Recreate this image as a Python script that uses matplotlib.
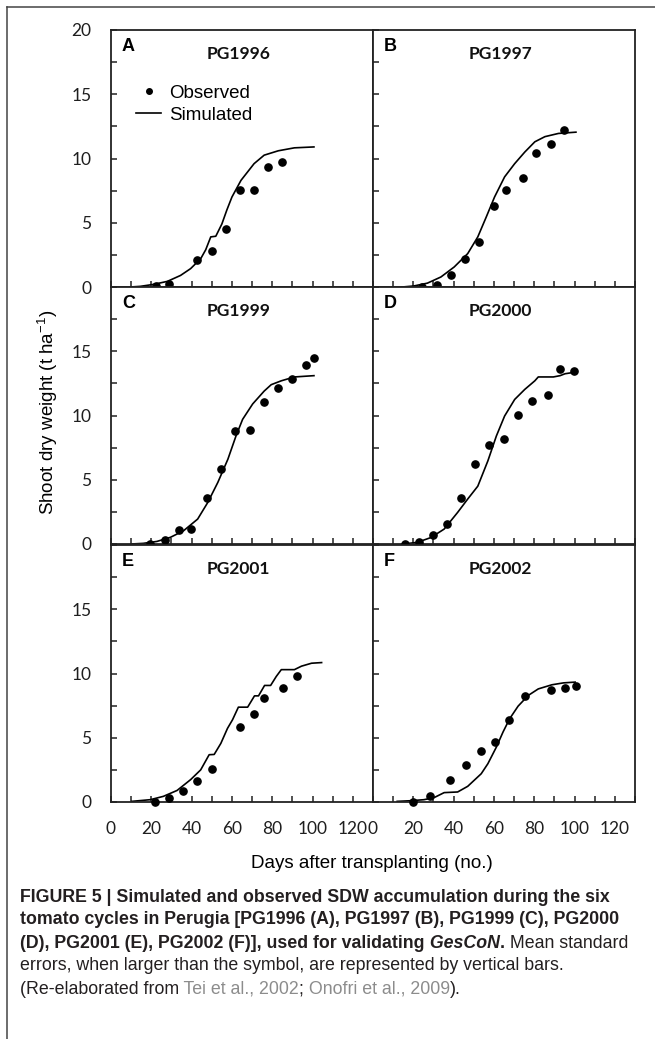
import matplotlib
matplotlib.use('Agg')
import matplotlib.pyplot as plt
from matplotlib.ticker import MultipleLocator, FixedFormatter, FixedLocator
from matplotlib.lines import Line2D
from matplotlib import font_manager

# panel labels and titles
letters = ['A', 'B', 'C', 'D', 'E', 'F']
titles = ['PG1996', 'PG1997', 'PG1999', 'PG2000', 'PG2001', 'PG2002']

# observed shoot dry weight (t/ha) vs days after transplanting
obs_a_day = [22.3, 28.7, 42.8, 50, 57, 64, 70.8, 77.8, 84.7]
obs_a_sdw = [0.08, 0.26, 2.08, 2.8, 4.55, 7.56, 7.56, 9.3, 9.7]
obs_b_day = [24.5, 31.7, 38.7, 45.8, 52.8, 59.8, 65.8, 74.2, 81, 88.2, 94.8]
obs_b_sdw = [0.0, 0.13, 0.9, 2.2, 3.5, 6.3, 7.56, 8.5, 10.4, 11.1, 12.2]
obs_c_day = [19.2, 26.7, 33.8, 39.5, 47.7, 54.8, 61.7, 69, 76, 83, 89.8, 96.8, 100.7]
obs_c_sdw = [0.0, 0.34, 1.09, 1.16, 3.57, 5.87, 8.77, 8.9, 11.07, 12.16, 12.83, 13.92, 14.5]
obs_d_day = [15.7, 22.8, 29.7, 36.7, 43.5, 50.7, 57.5, 65, 72, 79, 86.8, 93, 99.8]
obs_d_sdw = [0.0, 0.13, 0.7, 1.55, 3.6, 6.2, 7.74, 8.18, 10.06, 11.15, 11.57, 13.6, 13.5]
obs_e_day = [22, 29, 35.8, 42.8, 50, 63.8, 71.2, 76, 85.2, 92.2]
obs_e_sdw = [0.0, 0.31, 0.83, 1.6, 2.59, 5.85, 6.87, 8.1, 8.9, 9.77]
obs_f_day = [20, 28.3, 38.3, 46.3, 53.7, 60.7, 67.7, 75.5, 88.5, 95.3, 100.7]
obs_f_sdw = [0.0, 0.44, 1.68, 2.9, 3.99, 4.66, 6.42, 8.24, 8.7, 8.9, 9.04]

# simulated curves
sim_a_day = [9.5, 14.5, 21, 28, 34.5, 39.5, 44.5, 47, 49.5, 52, 55, 57.5, 60, 64.5, 68, 71, 76, 83, 91, 100.7]
sim_a_sdw = [0.0, 0.05, 0.2, 0.44, 0.9, 1.43, 2.2, 2.9, 3.9, 3.95, 4.9, 6.0, 7.0, 8.3, 9.0, 9.6, 10.26, 10.6, 10.83, 10.9]
sim_b_day = [14.5, 20.3, 27, 33.7, 40.3, 47, 52, 56.2, 60.3, 65.3, 70.3, 75.3, 80.3, 85.3, 92, 100.7]
sim_b_sdw = [0.0, 0.08, 0.3, 0.78, 1.56, 2.6, 3.9, 5.45, 7.0, 8.57, 9.6, 10.5, 11.3, 11.7, 11.95, 12.05]
sim_c_day = [10, 16, 22.8, 29.5, 36, 43, 48, 53, 58, 62, 65.3, 70.3, 76, 79.5, 84.5, 91, 100.7]
sim_c_sdw = [0.0, 0.05, 0.2, 0.52, 1.03, 1.94, 3.23, 4.79, 6.6, 8.4, 9.7, 10.9, 11.9, 12.4, 12.7, 13.0, 13.1]
sim_d_day = [15.3, 22, 28.7, 35.3, 42, 47, 52, 57, 61.2, 65.3, 70.3, 75.3, 80.3, 82, 89.5, 92.8, 95.3, 100.7]
sim_d_sdw = [0.0, 0.13, 0.5, 1.16, 2.46, 3.5, 4.5, 6.47, 8.4, 9.96, 11.25, 12.03, 12.7, 13.0, 13.0, 13.1, 13.25, 13.38]
sim_e_day = [10.3, 19.5, 26, 32.8, 39.5, 44.5, 48.7, 51.2, 54.5, 57.8, 60.3, 63.2, 67.8, 71.2, 73.2, 76.2,
             79.2, 82, 84.5, 91, 94.5, 99.5, 104.5]
sim_e_sdw = [0.05, 0.18, 0.44, 0.9, 1.74, 2.5, 3.68, 3.7, 4.56, 5.73, 6.4, 7.38, 7.38, 8.26, 8.26, 9.07,
             9.07, 9.77, 10.3, 10.3, 10.57, 10.8, 10.85]
sim_f_day = [12, 18.7, 25.3, 30.3, 35.3, 42, 47, 53.7, 57, 61.2, 64.5, 67.8, 72, 77, 82, 88.7, 94.5, 100.3]
sim_f_sdw = [0.05, 0.1, 0.18, 0.34, 0.73, 0.78, 1.22, 2.2, 2.98, 4.27, 5.44, 6.48, 7.46, 8.29, 8.8, 9.12, 9.27, 9.33]

obs_days = [obs_a_day, obs_b_day, obs_c_day, obs_d_day, obs_e_day, obs_f_day]
obs_sdw = [obs_a_sdw, obs_b_sdw, obs_c_sdw, obs_d_sdw, obs_e_sdw, obs_f_sdw]
sim_days = [sim_a_day, sim_b_day, sim_c_day, sim_d_day, sim_e_day, sim_f_day]
sim_sdw = [sim_a_sdw, sim_b_sdw, sim_c_sdw, sim_d_sdw, sim_e_sdw, sim_f_sdw]

y_ticks_top = [0, 5, 10, 15, 20]
y_ticks_low = [0, 5, 10, 15]   # lower panels drop the "20" label

plt.rcParams['mathtext.default'] = 'regular'

W, H = 655, 1039
fig = plt.figure(figsize=(W / 100, H / 100), dpi=100)

# axes grid in pixels
col_left = [111, 373]
row_top = [30, 287, 545]
pw, ph = 262, 257

tick_col = '#1e1e1e'
for i in range(6):
    r, c = divmod(i, 2)
    ax = fig.add_axes([col_left[c] / W, 1 - (row_top[r] + ph) / H, pw / W, ph / H])
    ax.plot(sim_days[i], sim_sdw[i], color='black', lw=1.2, zorder=2)
    ax.plot(obs_days[i], obs_sdw[i], 'o', color='black', ms=5.2, zorder=3, clip_on=False)
    ax.set_xlim(0, 130)
    ax.set_ylim(0, 20)
    ax.xaxis.set_major_locator(MultipleLocator(20))
    ax.xaxis.set_minor_locator(MultipleLocator(10))
    yt = y_ticks_top if r == 0 else y_ticks_low
    ax.yaxis.set_major_locator(FixedLocator(yt))
    ax.yaxis.set_major_formatter(FixedFormatter([str(v) for v in yt]))
    ax.yaxis.set_minor_locator(MultipleLocator(2.5))
    ax.tick_params(which='both', direction='in', length=4, width=1.1, color='#222222',
                   labelsize=12.5, labelcolor=tick_col, pad=14)
    for lab in ax.get_xticklabels() + ax.get_yticklabels():
        lab.set_family('Lato')
    if r < 2:
        ax.tick_params(labelbottom=False)
    if c == 1:
        ax.tick_params(labelleft=False)
    for s in ax.spines.values():
        s.set_linewidth(1.3)
        s.set_color('#222222')
    ax.text(11 / pw, 1 - 8 / ph, letters[i], transform=ax.transAxes, ha='left', va='top',
            fontsize=13, fontweight='bold', family='Liberation Sans')
    ax.text(0.487, 1 - 24 / ph, titles[i], transform=ax.transAxes, ha='center', va='center',
            fontsize=12.5, fontweight='bold', family='Lato', color='#111111')
    if i == 0:
        h_obs = Line2D([], [], marker='o', ls='none', color='black', ms=4)
        h_sim = Line2D([], [], color='black', lw=1.2)
        ax.legend([h_obs, h_sim], ['Observed', 'Simulated'], loc='upper left',
                  bbox_to_anchor=(16 / pw, 1 - 45 / ph), frameon=False, borderpad=0,
                  handlelength=1.3, handletextpad=0.45, labelspacing=0.28,
                  prop={'family': 'Liberation Sans', 'size': 13.5})

fig.text(48 / W, 1 - 412 / H, r'Shoot dry weight (t ha$^{-1}$)', rotation=90,
         ha='center', va='center', fontsize=13.5, family='Liberation Sans')
fig.text(372 / W, 1 - 864 / H, 'Days after transplanting (no.)', ha='center', va='center',
         fontsize=13.5, family='Liberation Sans')

# outer frame of the figure box
fig.add_artist(Line2D([7 / W, 1], [1 - 7 / H, 1 - 7 / H], transform=fig.transFigure,
                      color='#444444', lw=1.1))
fig.add_artist(Line2D([7 / W, 7 / W], [1 - 7 / H, 0], transform=fig.transFigure,
                      color='#444444', lw=1.1))

# caption
names = set(f.name for f in font_manager.fontManager.ttflist)
cap_font = 'Liberation Sans Narrow' if 'Liberation Sans Narrow' in names else 'Liberation Sans'
cap_col = '#231f20'
ref_col = '#8c8c8c'

fig.canvas.draw()
rend = fig.canvas.get_renderer()

line1 = 'FIGURE 5 | Simulated and observed SDW accumulation during the six'
probe = fig.text(0, 0, line1, fontsize=10, fontweight='bold', family=cap_font)
pw_px = probe.get_window_extent(renderer=rend).width
probe.remove()
cap_fs = 10 * (588 / pw_px)

caption = [
    [(line1, 'bold', 'normal', cap_col)],
    [('tomato cycles in Perugia [PG1996 (A), PG1997 (B), PG1999 (C), PG2000', 'bold', 'normal', cap_col)],
    [('(D), PG2001 (E), PG2002 (F)], used for validating', 'bold', 'normal', cap_col),
     (' GesCoN', 'bold', 'italic', cap_col),
     ('.', 'bold', 'normal', cap_col),
     (' Mean standard', 'normal', 'normal', cap_col)],
    [('errors, when larger than the symbol, are represented by vertical bars.', 'normal', 'normal', cap_col)],
    [('(Re-elaborated from', 'normal', 'normal', cap_col),
     (' Tei et al., 2002', 'normal', 'normal', ref_col),
     (';', 'normal', 'normal', cap_col),
     (' Onofri et al., 2009', 'normal', 'normal', ref_col),
     (').', 'normal', 'normal', cap_col)],
]

y0, dy = 897, 23
for k, segs in enumerate(caption):
    x = 20
    for s, wt, st, col in segs:
        t = fig.text(x / W, 1 - (y0 + k * dy) / H, s, fontsize=cap_fs, fontweight=wt, fontstyle=st,
                     color=col, family=cap_font, ha='left', va='center')
        x = t.get_window_extent(renderer=rend).x1

fig.savefig('out.png', dpi=100)
